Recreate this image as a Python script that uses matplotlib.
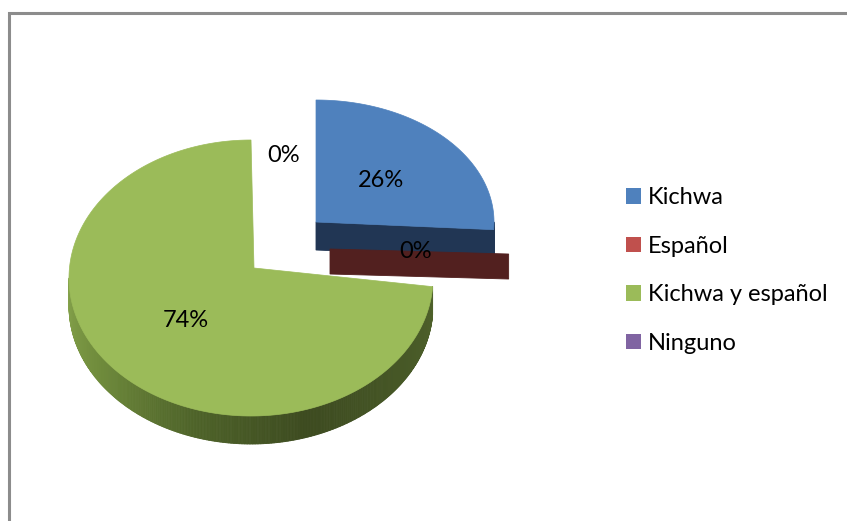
import numpy as np
import matplotlib
matplotlib.use("Agg")
import matplotlib.pyplot as plt
from matplotlib.patches import Polygon, Patch
from matplotlib.collections import PolyCollection
from matplotlib.colors import LinearSegmentedColormap
from matplotlib.lines import Line2D

# ---- data -------------------------------------------------------------
categories = ["Kichwa", "Español", "Kichwa y español", "Ninguno"]
values = [26, 0, 74, 0]

# ---- styling ----------------------------------------------------------
top_colors = ["#4F81BD", "#C0504D", "#9BBB59", "#8064A2"]
side_colors = [
    ["#213654", "#213654"],
    ["#52201F", "#52201F"],
    ["#86A34C", "#6E8A3B", "#4E6329", "#3D4B20", "#465726", "#4F622B"],
    ["#3F3151", "#3F3151"],
]
FONT = "Lato"

# projected geometry of each (exploded) slice, in pixels
geom = [
    dict(apex=(316, 222), centre=(316, 222), rx=178, ry=122, depth=28),
    dict(apex=(330, 249), centre=(330, 249), rx=179, ry=80, depth=25),
    dict(apex=(254, 268), centre=(251, 278), rx=182, ry=138, depth=28),
    dict(apex=(254, 268), centre=(251, 278), rx=182, ry=138, depth=28),
]
label_nudge = [(0, 0), (-4, 0), (0, 0), (31, -49)]
draw_order = [2, 0, 1, 3]

W, H = 847, 521
fig = plt.figure(figsize=(W / 100, H / 100), dpi=100)
ax = fig.add_axes([0, 0, 1, 1])
ax.set_xlim(0, W)
ax.set_ylim(H, 0)
ax.axis("off")


def rim(g, theta_deg):
    t = np.radians(theta_deg)
    cx, cy = g["centre"]
    return np.column_stack([cx + g["rx"] * np.cos(t), cy - g["ry"] * np.sin(t)])


total = float(sum(values))
starts, ends = [], []
a = 90.0
for v in values:
    sweep = 360.0 * v / total
    starts.append(a)
    ends.append(a - sweep)
    a -= sweep

for z, i in enumerate(draw_order):
    g = geom[i]
    a_hi, a_lo = starts[i], ends[i]
    d = np.array([0, g["depth"]])
    apex = np.array(g["apex"], dtype=float)
    zo = 2 + z * 3
    cmap = LinearSegmentedColormap.from_list("side%d" % i, side_colors[i])

    # outer curved wall (front half only)
    seg_from, seg_to = max(a_lo, -180.0), min(a_hi, 0.0)
    if seg_to > seg_from:
        th = np.linspace(seg_from, seg_to, int((seg_to - seg_from) / 0.5) + 2)
        pts = rim(g, th)
        polys, cols = [], []
        for k in range(len(th) - 1):
            p0, p1 = pts[k], pts[k + 1]
            polys.append([p0, p1, p1 + d, p0 + d])
            f = (-(th[k] + th[k + 1]) / 2.0) / 180.0  # 0 at right, 1 at left
            cols.append(cmap(1.0 - f))
        pc = PolyCollection(polys, facecolors=cols, edgecolors=cols,
                            linewidths=0.6, zorder=zo)
        ax.add_collection(pc)

    # flat radial walls facing the viewer
    for edge, sign in ((a_lo, 1), (a_hi, -1)):
        if sign * np.cos(np.radians(edge)) > 1e-6:
            r = rim(g, [edge])[0]
            ax.add_patch(Polygon([apex, r, r + d, apex + d], closed=True,
                                 facecolor=side_colors[i][-1],
                                 edgecolor=side_colors[i][-1], lw=0.6,
                                 zorder=zo + 1))

    # top face
    if a_hi > a_lo:
        th = np.linspace(a_lo, a_hi, int((a_hi - a_lo) / 0.5) + 2)
        pts = np.vstack([apex, rim(g, th)])
        ax.add_patch(Polygon(pts, closed=True, facecolor=top_colors[i],
                             edgecolor=top_colors[i], lw=0.5, zorder=zo + 2))

# percentage labels
for i, v in enumerate(values):
    g = geom[i]
    mid = (starts[i] + ends[i]) / 2.0
    apex = np.array(g["apex"], dtype=float)
    pos = apex + 0.5 * (rim(g, [mid])[0] - apex) + np.array(label_nudge[i])
    ax.text(pos[0], pos[1], "%d%%" % round(100 * v / total), fontsize=17,
            family=FONT, ha="center", va="center", color="black", zorder=30)

# chart frame
ax.add_line(Line2D([8.5, 8.5, W + 5], [H + 5, 12.5, 12.5],
                   color="#8C8C8C", lw=2.2, solid_joinstyle="miter", zorder=40))

# legend
handles = [Patch(facecolor=c, edgecolor="none") for c in top_colors]
leg = fig.legend(handles, categories, loc="center left",
                 bbox_to_anchor=(626 / W, 1 - 270.5 / H), frameon=False,
                 borderpad=0, borderaxespad=0, handlelength=0.64,
                 handleheight=0.64, handletextpad=0.3, labelspacing=1.17,
                 prop=dict(family=FONT, size=17))

fig.savefig("out.png", dpi=100)
